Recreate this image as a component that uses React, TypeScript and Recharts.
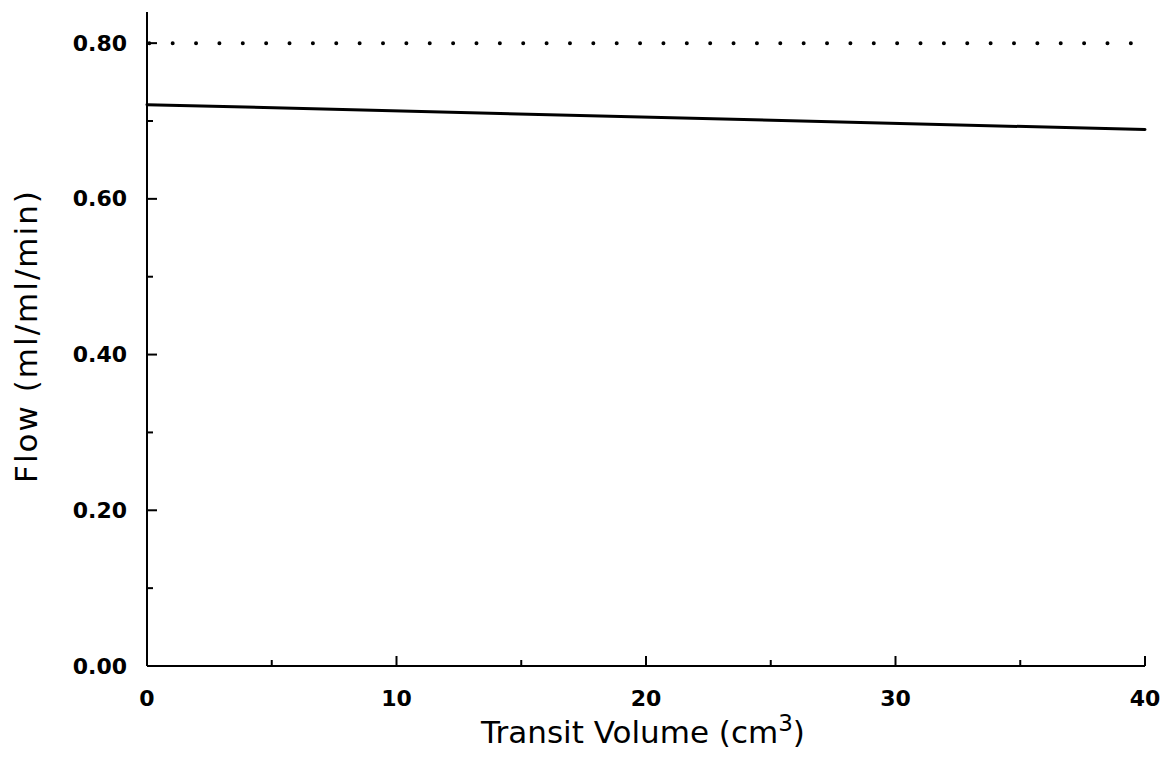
import React from "react";
import { LineChart, Line, XAxis, YAxis, Label } from "recharts";

// Transit volume (cm^3) sampled at the ends of the straight flow trace
const volume = [0, 40];
// Computed flow (ml/ml/min) along the transit volume
const flow = [0.721, 0.689];
// Reference flow level drawn as a dotted line
const referenceFlow = [0.8, 0.8];

const xTicks = [0, 5, 10, 15, 20, 25, 30, 35, 40];
const yTicks = [0, 0.1, 0.2, 0.3, 0.4, 0.5, 0.6, 0.7, 0.8];

const data = volume.map((v, i) => ({ v, flow: flow[i], ref: referenceFlow[i] }));

const FONT = "'DejaVu Sans', 'Liberation Sans', sans-serif";

const XTick = (props: any) => {
  const { x, y, payload } = props;
  const major = payload.value % 10 === 0;
  return (
    <g>
      <line x1={x} x2={x} y1={y} y2={y - (major ? 10 : 6)} stroke="#000" strokeWidth={2} />
      {major && (
        <text
          x={x}
          y={y + 32}
          textAnchor="middle"
          dominantBaseline="central"
          fontFamily={FONT}
          fontWeight="bold"
          fontSize={22}
          fill="#000"
        >
          {payload.value}
        </text>
      )}
    </g>
  );
};

const YTick = (props: any) => {
  const { x, y, payload } = props;
  const major = Math.round(payload.value * 10) % 2 === 0;
  return (
    <g>
      <line x1={x} x2={x + (major ? 10 : 6)} y1={y} y2={y} stroke="#000" strokeWidth={2} />
      {major && (
        <text
          x={x - 20}
          y={y}
          textAnchor="end"
          dominantBaseline="central"
          fontFamily={FONT}
          fontWeight="bold"
          fontSize={22}
          fill="#000"
        >
          {payload.value.toFixed(2)}
        </text>
      )}
    </g>
  );
};

const XTitle = (props: any) => {
  const { viewBox } = props;
  const cx = viewBox.x + viewBox.width / 2;
  return (
    <text x={cx - 3} y={743} textAnchor="middle" fontFamily={FONT} fontSize={31} fill="#000">
      Transit Volume (cm
      <tspan fontSize={23} dy={-12}>3</tspan>
      <tspan dy={12}>)</tspan>
    </text>
  );
};

const YTitle = (props: any) => {
  const { viewBox } = props;
  const cy = viewBox.y + viewBox.height / 2 - 3;
  return (
    <text
      x={37}
      y={cy}
      transform={`rotate(-90, 37, ${cy})`}
      textAnchor="middle"
      fontFamily={FONT}
      fontSize={31}
      letterSpacing={2}
      fill="#000"
    >
      Flow (ml/ml/min)
    </text>
  );
};

export default function App() {
  return (
    <div style={{ position: "absolute", left: 0, top: 0, background: "#fff" }}>
      <LineChart
        width={1167}
        height={771}
        data={data}
        margin={{ top: 12, right: 22, left: 0, bottom: 0 }}
      >
        <XAxis
          dataKey="v"
          type="number"
          domain={[0, 40]}
          ticks={xTicks}
          interval={0}
          height={105}
          tickSize={0}
          tickMargin={0}
          tickLine={false}
          axisLine={{ stroke: "#000", strokeWidth: 2 }}
          tick={<XTick />}
        >
          <Label content={<XTitle />} />
        </XAxis>
        <YAxis
          type="number"
          domain={[0, 0.84]}
          ticks={yTicks}
          interval={0}
          width={147}
          tickSize={0}
          tickMargin={0}
          tickLine={false}
          axisLine={{ stroke: "#000", strokeWidth: 2 }}
          tick={<YTick />}
        >
          <Label content={<YTitle />} />
        </YAxis>
        <Line
          dataKey="ref"
          type="linear"
          stroke="#000"
          strokeWidth={4}
          strokeLinecap="round"
          strokeDasharray="0 23.37"
          strokeDashoffset={21.07}
          dot={false}
          activeDot={false}
          isAnimationActive={false}
        />
        <Line
          dataKey="flow"
          type="linear"
          stroke="#000"
          strokeWidth={3}
          strokeLinecap="round"
          dot={false}
          activeDot={false}
          isAnimationActive={false}
        />
      </LineChart>
    </div>
  );
}
